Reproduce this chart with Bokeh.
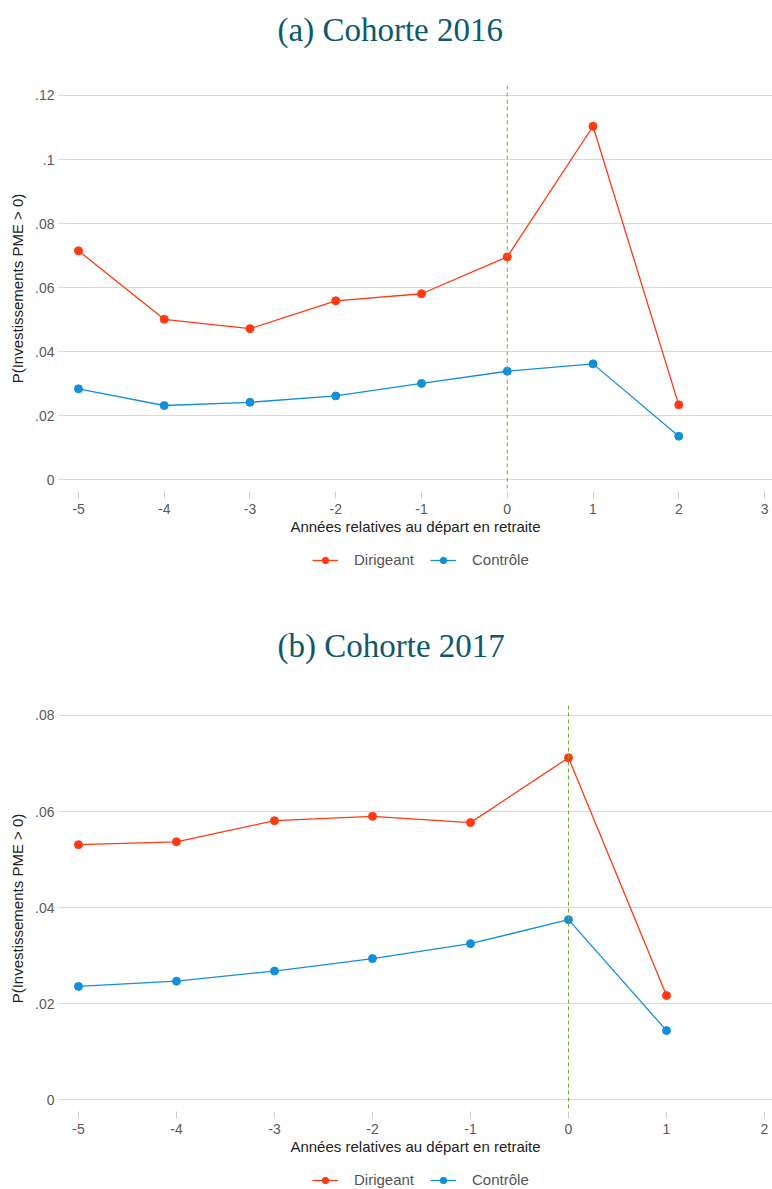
from bokeh.plotting import figure
from bokeh.models import (Span, Legend, LegendItem, FixedTicker,
                          CustomJSTickFormatter, Range1d)
from bokeh.layouts import column
from bokeh.embed import file_html
from bokeh.resources import INLINE

# ---------------- data ----------------
titles = ["(a) Cohorte 2016", "(b) Cohorte 2017"]
series_names = ["Dirigeant", "Contrôle"]
x_title = "Années relatives au départ en retraite"
y_title = "P(Investissements PME > 0)"

years_a = [-5, -4, -3, -2, -1, 0, 1, 2]
dirigeant_a = [0.0715, 0.0501, 0.0472, 0.0559, 0.0581, 0.0696, 0.1104, 0.0234]
controle_a = [0.0284, 0.0232, 0.0242, 0.0262, 0.0301, 0.0339, 0.0362, 0.0136]

years_b = [-5, -4, -3, -2, -1, 0, 1]
dirigeant_b = [0.0531, 0.0537, 0.0581, 0.0590, 0.0577, 0.0712, 0.0217]
controle_b = [0.0236, 0.0247, 0.0268, 0.0294, 0.0325, 0.0375, 0.0144]

xticks_a = [-5, -4, -3, -2, -1, 0, 1, 2, 3]
xlabels_a = ["-5", "-4", "-3", "-2", "-1", "0", "1", "2", "3"]
yticks_a = [0, 0.02, 0.04, 0.06, 0.08, 0.1, 0.12]
ylabels_a = ["0", ".02", ".04", ".06", ".08", ".1", ".12"]

xticks_b = [-5, -4, -3, -2, -1, 0, 1, 2]
xlabels_b = ["-5", "-4", "-3", "-2", "-1", "0", "1", "2"]
yticks_b = [0, 0.02, 0.04, 0.06, 0.08]
ylabels_b = ["0", ".02", ".04", ".06", ".08"]

event_year = 0

# ---------------- style ----------------
RED = "#ff3a12"
BLUE = "#128fd8"
GREEN = "#6fae2e"
TEAL = "#0e5a6a"
SANS = "Liberation Sans"
SERIF = "Liberation Serif"
W = 772

FMT_CODE = """
for (let k = 0; k < tvals.length; k++) {
  if (Math.abs(tvals[k] - tick) < 1e-9) { return tlabels[k]; }
}
return "";
"""


def bare(height):
    p = figure(width=W, height=height, output_backend="svg",
               toolbar_location=None, x_axis_location=None,
               y_axis_location=None, x_range=Range1d(0, 1),
               y_range=Range1d(0, 1),
               min_border=0)
    p.outline_line_color = None
    p.xgrid.grid_line_color = None
    p.ygrid.grid_line_color = None
    p.background_fill_color = "white"
    p.border_fill_color = "white"
    return p


def title_plot(text):
    p = bare(60)
    p.title.text = text
    p.title.text_font = SERIF
    p.title.text_font_size = "33px"
    p.title.text_font_style = "normal"
    p.title.text_color = TEAL
    p.title.align = "left"
    p.title.offset = 219
    p.title.standoff = 18
    return p


def add_series(p, years, dvals, cvals, visible=True):
    l1 = p.line(years, dvals, line_color=RED, line_width=1.3, visible=visible)
    s1 = p.scatter(years, dvals, size=8, fill_color=RED, line_color=RED, visible=visible)
    l2 = p.line(years, cvals, line_color=BLUE, line_width=1.3, visible=visible)
    s2 = p.scatter(years, cvals, size=8, fill_color=BLUE, line_color=BLUE, visible=visible)
    return (l1, s1), (l2, s2)


def legend_strip(years, dvals, cvals, height, y_loc):
    lg = bare(height)
    r1, r2 = add_series(lg, years, dvals, cvals, visible=False)
    lg.add_layout(Legend(items=[LegendItem(label=series_names[0], renderers=list(r1)),
                                LegendItem(label=series_names[1], renderers=list(r2))],
                         orientation="horizontal", location=(254, y_loc),
                         border_line_color=None, background_fill_alpha=0,
                         label_text_font=SANS, label_text_font_size="15px",
                         label_text_color="#555555", label_height=16,
                         glyph_width=26, glyph_height=16, label_standoff=16,
                         spacing=16, padding=0, margin=0))
    return lg


def make_fig(years, dvals, cvals, xticks, xlabels, yticks, ylabels,
             xr, yr, height, border_top, border_bottom):
    p = figure(width=W, height=height, output_backend="svg",
               toolbar_location=None, x_range=Range1d(*xr),
               y_range=Range1d(*yr),
               min_border_left=58, min_border_right=0,
               min_border_top=border_top, min_border_bottom=border_bottom)
    p.outline_line_color = None
    p.background_fill_color = "white"
    p.border_fill_color = "white"

    p.xgrid.grid_line_color = None
    p.ygrid.grid_line_color = "#d9d9d9"
    p.ygrid.grid_line_width = 1.2

    xa = p.xaxis[0]
    xa.ticker = FixedTicker(ticks=xticks)
    xa.formatter = CustomJSTickFormatter(args=dict(tvals=xticks, tlabels=xlabels), code=FMT_CODE)
    xa.axis_line_color = None
    xa.major_tick_out = 7
    xa.major_tick_in = 0
    xa.major_tick_line_color = "#cfcfcf"
    xa.minor_tick_line_color = None
    xa.major_label_standoff = 5
    xa.major_label_text_font = SANS
    xa.major_label_text_font_size = "14px"
    xa.major_label_text_color = "#5a5a5a"
    xa.axis_label = x_title
    xa.axis_label_text_font = SANS
    xa.axis_label_text_font_size = "15px"
    xa.axis_label_text_font_style = "normal"
    xa.axis_label_text_color = "#222222"
    xa.axis_label_standoff = 1

    ya = p.yaxis[0]
    ya.ticker = FixedTicker(ticks=yticks)
    ya.formatter = CustomJSTickFormatter(args=dict(tvals=yticks, tlabels=ylabels), code=FMT_CODE)
    ya.axis_line_color = None
    ya.major_tick_out = 0
    ya.major_tick_in = 0
    ya.major_tick_line_color = None
    ya.minor_tick_line_color = None
    ya.major_label_standoff = 4
    ya.major_label_text_font = SANS
    ya.major_label_text_font_size = "14px"
    ya.major_label_text_color = "#5a5a5a"
    ya.axis_label = y_title
    ya.axis_label_text_font = SANS
    ya.axis_label_text_font_size = "15px"
    ya.axis_label_text_font_style = "normal"
    ya.axis_label_text_color = "#222222"
    ya.axis_label_standoff = 6

    p.add_layout(Span(location=event_year, dimension="height",
                      line_color=GREEN, line_width=1, line_dash="4 3"))
    return p


# ----- panel (a) -----
t1 = title_plot(titles[0])
p1 = make_fig(years_a, dirigeant_a, controle_a, xticks_a, xlabels_a,
              yticks_a, ylabels_a, (-5.233, 3.093), (-0.00365, 0.12312),
              height=480, border_top=25, border_bottom=49)
add_series(p1, years_a, dirigeant_a, controle_a)
lg1 = legend_strip(years_a, dirigeant_a, controle_a, 76, 48)

# ----- panel (b) -----
t2 = title_plot(titles[1])
p2 = make_fig(years_b, dirigeant_b, controle_b, xticks_b, xlabels_b,
              yticks_b, ylabels_b, (-5.204, 2.0816), (-0.00244, 0.08208),
              height=484, border_top=29, border_bottom=49)
add_series(p2, years_b, dirigeant_b, controle_b)
lg2 = legend_strip(years_b, dirigeant_b, controle_b, 29, 1)

layout = column(t1, p1, lg1, t2, p2, lg2, spacing=0)
open("out.html", "w").write(file_html(layout, INLINE))
